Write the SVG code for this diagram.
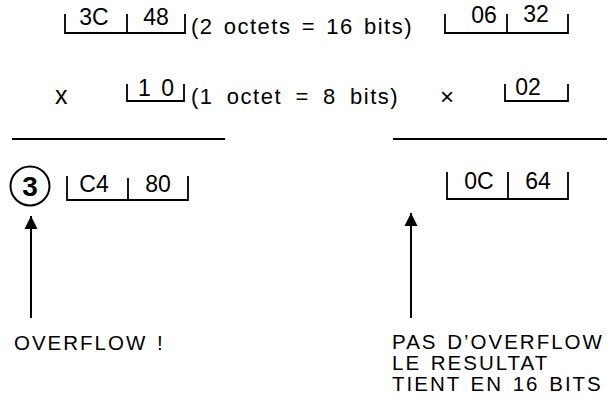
<svg xmlns="http://www.w3.org/2000/svg" width="607" height="407" viewBox="0 0 607 407">
<style>
text{font-family:"Liberation Sans",Arial,Helvetica,sans-serif;fill:#000}
.n{font-size:23px;text-anchor:middle}
.p{font-size:22px;letter-spacing:1.5px}
.b{font-size:20.5px;letter-spacing:2px;word-spacing:2px}
.br{fill:none;stroke:#000;stroke-width:1.8}
.ln{stroke:#000;stroke-width:2}
</style>
<defs>
<marker id="ah" viewBox="0 0 10 10" refX="10" refY="5" markerWidth="13" markerHeight="15" markerUnits="userSpaceOnUse" orient="auto">
<path d="M0,0 L10,5 L0,10 Z" fill="#000"/>
</marker>
</defs>
<g id="row1-left">
<path class="br" d="M65,14 V33 H185 V14 M127,14 V33"/>
<text class="n" x="94" y="25">3C</text>
<text class="n" x="156" y="25">48</text>
</g>
<text id="note1" class="p" x="191" y="34" word-spacing="2.6px">(2 octets = 16 bits)</text>
<g id="row1-right">
<path class="br" d="M445,14 V33 H568 V14 M507,14 V33"/>
<text class="n" x="484" y="23">06</text>
<text class="n" x="536" y="22">32</text>
</g>
<text id="times1" x="55" y="104" font-size="25px">x</text>
<g id="row2-left">
<path class="br" d="M127,84 V101 H184 V84"/>
<text class="n" x="157" y="96" letter-spacing="2px">1 0</text>
</g>
<text id="note2" class="p" x="191" y="104" word-spacing="5.7px">(1 octet = 8 bits)</text>
<text id="times2" x="440" y="105" font-size="24px">×</text>
<g id="row2-right">
<path class="br" d="M505,84 V101 H568 V84"/>
<text class="n" x="528" y="95">02</text>
</g>
<g id="rules">
<line class="ln" x1="12" y1="139" x2="225" y2="139"/>
<line class="ln" x1="393" y1="139" x2="607" y2="139"/>
</g>
<g id="carry">
<circle cx="30" cy="186" r="19.5" fill="none" stroke="#000" stroke-width="2"/>
<text x="30" y="196" font-size="28px" font-weight="bold" text-anchor="middle">3</text>
</g>
<g id="row3-left">
<path class="br" d="M67,176 V200 H188 V176 M128,178 V200"/>
<text class="n" x="94" y="192">C4</text>
<text class="n" x="158" y="192">80</text>
</g>
<g id="row3-right">
<path class="br" d="M447,172 V199 H568 V172 M508,172 V199"/>
<text class="n" x="479" y="189">0C</text>
<text class="n" x="538" y="189">64</text>
</g>
<g id="connectors">
<line class="ln" x1="31" y1="318" x2="31" y2="216" marker-end="url(#ah)"/>
<line class="ln" x1="411" y1="318" x2="411" y2="213" marker-end="url(#ah)"/>
</g>
<g id="label-left">
<text class="b" x="14" y="350" letter-spacing="1.6px" word-spacing="0">OVERFLOW !</text>
</g>
<g id="label-right">
<text class="b" x="392" y="349">PAS D’OVERFLOW</text>
<text class="b" x="392" y="370">LE RESULTAT</text>
<text class="b" x="392" y="391">TIENT EN 16 BITS</text>
</g>
</svg>
